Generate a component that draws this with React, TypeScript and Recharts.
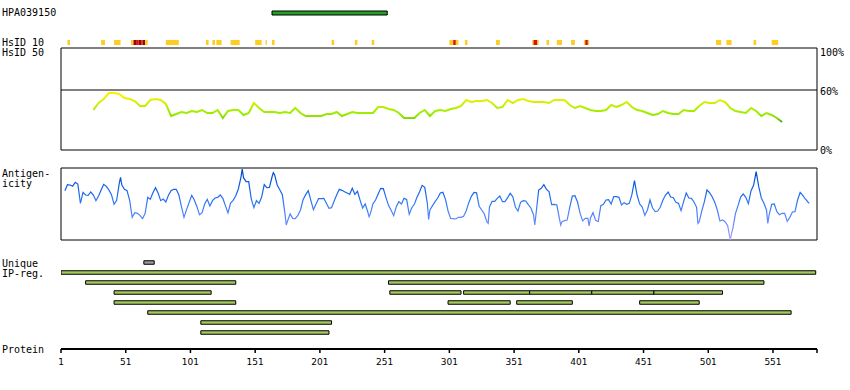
import React from "react";
import {
  BarChart,
  Bar,
  LineChart,
  Line,
  XAxis,
  YAxis,
  ReferenceArea,
  ReferenceLine,
  Cell,
} from "recharts";

const PROTEIN_END = 585;
const residueTicks = [1, 51, 101, 151, 201, 251, 301, 351, 401, 451, 501, 551, 585];
const percentTicks = [0, 60, 100];

// antigen (PrEST) region of HPA039150
const antigenRegion: [number, number] = [164, 253];

// HsID 10 hits: [from, to, level] — 1 yellow, 2 red, 3 dark red
const hsid10: [number, number, number][] = [
  [6, 8, 1], [32, 35, 1], [42, 47, 1], [55, 57, 1], [57, 59, 3], [59, 61, 2],
  [61, 63, 3], [63, 64, 2], [64, 66, 3], [66, 68, 1], [82, 92, 1], [113, 115, 1],
  [118, 120, 1], [121, 125, 1], [132, 139, 1], [151, 156, 1], [159, 160, 1],
  [164, 166, 1], [210, 212, 1], [228, 230, 1], [241, 243, 1], [301, 304, 1],
  [304, 306, 2], [306, 308, 1], [313, 315, 1], [337, 340, 1], [365, 366, 1],
  [366, 369, 2], [369, 370, 1], [376, 378, 1], [384, 388, 1], [395, 398, 1],
  [405, 406, 1], [406, 408, 2], [408, 409, 1], [507, 511, 1], [515, 519, 1],
  [536, 538, 1], [550, 555, 1],
];

// HsID 50 similarity, % (residue, value)
const similarity: [number, number][] = [
  [26, 40], [30, 47], [34, 51], [38, 57], [42, 57], [46, 56], [50, 52], [54, 51],
  [58, 49], [62, 44], [66, 44], [70, 50], [74, 51], [78, 50], [82, 46], [86, 34],
  [90, 36], [94, 38], [98, 37], [102, 39], [106, 38], [110, 40], [114, 37], [118, 37],
  [122, 40], [126, 32], [130, 39], [134, 40], [138, 40], [142, 35], [146, 37], [150, 47],
  [154, 42], [158, 38], [162, 38], [166, 38], [170, 37], [174, 38], [178, 37], [182, 42],
  [186, 37], [190, 34], [194, 34], [198, 34], [202, 34], [206, 36], [210, 36], [214, 38],
  [218, 34], [222, 36], [226, 38], [230, 37], [234, 37], [238, 37], [242, 37], [246, 43],
  [250, 43], [254, 41], [258, 40], [262, 37], [266, 32], [270, 32], [274, 32], [278, 37],
  [282, 40], [286, 34], [290, 39], [294, 40], [298, 39], [302, 41], [306, 42], [310, 44],
  [314, 50], [318, 48], [322, 49], [326, 49], [330, 50], [334, 47], [338, 42], [342, 43],
  [346, 50], [350, 47], [354, 50], [358, 51], [362, 49], [366, 48], [370, 48], [374, 48],
  [378, 47], [382, 50], [386, 50], [390, 50], [394, 45], [398, 42], [402, 44], [406, 42],
  [410, 40], [414, 39], [418, 39], [422, 40], [426, 45], [430, 43], [434, 45], [438, 48],
  [442, 43], [446, 40], [450, 39], [454, 37], [458, 35], [462, 36], [466, 39], [470, 37],
  [474, 36], [478, 36], [482, 40], [486, 39], [490, 39], [494, 44], [498, 48], [502, 47],
  [506, 47], [510, 50], [514, 48], [518, 42], [522, 39], [526, 38], [530, 37], [534, 42],
  [538, 39], [542, 34], [546, 37], [550, 35], [554, 32], [558, 28],
];

// antigenicity score, arbitrary units (residue, value)
const antigenicity: [number, number][] = [
  [4, 148], [6, 166], [8, 165], [10, 161], [12, 173], [14, 168], [16, 110], [18, 143],
  [20, 135], [22, 134], [24, 144], [26, 135], [28, 118], [30, 132], [32, 150], [34, 167],
  [36, 161], [38, 150], [40, 136], [42, 107], [44, 119], [46, 170], [47, 188], [48, 165],
  [50, 152], [52, 148], [54, 120], [56, 68], [58, 82], [60, 80], [62, 74], [64, 64],
  [66, 80], [68, 128], [70, 122], [72, 142], [74, 157], [76, 141], [78, 118], [80, 123],
  [82, 114], [84, 134], [86, 148], [88, 152], [90, 152], [92, 136], [94, 101], [96, 68],
  [98, 91], [100, 113], [102, 134], [104, 120], [106, 100], [108, 76], [110, 82], [112, 108],
  [114, 122], [116, 102], [118, 118], [120, 126], [122, 128], [124, 135], [126, 125], [128, 103],
  [130, 81], [132, 111], [134, 119], [136, 133], [138, 153], [140, 188], [141, 213], [142, 187],
  [144, 175], [146, 175], [148, 123], [150, 97], [152, 118], [154, 110], [156, 129], [158, 166],
  [160, 157], [162, 158], [164, 189], [165, 202], [166, 196], [168, 165], [170, 151], [172, 136],
  [174, 80], [175, 45], [176, 57], [178, 78], [180, 65], [182, 64], [184, 74], [186, 90],
  [188, 121], [190, 136], [192, 148], [194, 119], [196, 91], [198, 108], [200, 124], [202, 124],
  [204, 125], [206, 110], [208, 95], [210, 97], [212, 117], [214, 136], [216, 152], [218, 149],
  [220, 145], [222, 141], [224, 137], [226, 155], [228, 137], [230, 146], [232, 120], [234, 96],
  [236, 108], [238, 84], [239, 70], [240, 79], [242, 109], [244, 120], [246, 138], [248, 155],
  [250, 154], [252, 128], [254, 104], [256, 89], [258, 73], [260, 100], [262, 115], [264, 108],
  [266, 125], [268, 122], [270, 77], [272, 97], [274, 108], [276, 128], [278, 145], [280, 164],
  [282, 158], [284, 110], [285, 62], [286, 90], [288, 103], [290, 115], [292, 126], [294, 141],
  [296, 143], [298, 122], [300, 87], [302, 65], [304, 64], [306, 63], [308, 68], [310, 68],
  [312, 71], [314, 87], [316, 112], [318, 131], [320, 143], [322, 142], [324, 101], [326, 90],
  [328, 78], [330, 54], [331, 50], [332, 99], [334, 116], [336, 116], [338, 125], [340, 132],
  [342, 115], [344, 115], [346, 127], [348, 140], [350, 130], [352, 99], [354, 87], [356, 113],
  [358, 118], [360, 117], [362, 106], [364, 96], [366, 76], [367, 45], [368, 80], [370, 150],
  [372, 155], [374, 166], [376, 152], [378, 145], [380, 106], [382, 107], [384, 105], [386, 65],
  [387, 45], [388, 55], [390, 58], [392, 60], [394, 98], [396, 132], [398, 133], [400, 114],
  [402, 80], [404, 57], [406, 65], [408, 65], [409, 42], [410, 66], [412, 82], [414, 59],
  [416, 55], [418, 103], [420, 107], [422, 120], [424, 121], [426, 108], [428, 130], [430, 130],
  [432, 128], [434, 105], [436, 112], [438, 107], [440, 110], [442, 136], [444, 178], [446, 135],
  [448, 108], [450, 99], [452, 74], [454, 90], [456, 120], [458, 96], [460, 85], [462, 87],
  [464, 99], [466, 120], [468, 135], [470, 144], [472, 129], [474, 127], [476, 113], [478, 110],
  [480, 88], [482, 116], [484, 141], [486, 126], [488, 125], [490, 114], [492, 98], [493, 50],
  [494, 55], [496, 87], [498, 115], [500, 150], [502, 142], [504, 130], [506, 113], [508, 90],
  [510, 57], [512, 60], [514, 55], [516, 43], [518, 0], [519, 20], [520, 35], [522, 79],
  [524, 103], [526, 129], [528, 138], [530, 128], [532, 109], [534, 147], [536, 164], [538, 205],
  [540, 160], [542, 126], [544, 110], [546, 90], [547, 50], [548, 75], [550, 107], [552, 108],
  [554, 85], [556, 76], [558, 80], [560, 80], [562, 56], [564, 68], [566, 84], [568, 85],
  [570, 120], [572, 143], [574, 134], [576, 123], [578, 114], [579, 110],
];

const uniqueRegions: [number, number][] = [[65, 73]];
const ipRegRows: [number, number][][] = [
  [[1, 584]],
  [[20, 136], [254, 544]],
  [[42, 117], [255, 310], [312, 363], [363, 411], [411, 459], [459, 512]],
  [[42, 136], [300, 348], [353, 396], [448, 494]],
  [[68, 565]],
  [[109, 210]],
  [[109, 208]],
];

const X_DOMAIN: [number, number] = [1, PROTEIN_END];
const MONO = '"DejaVu Sans Mono", monospace';
const hsidColors: Record<number, string> = { 1: "#ffcc22", 2: "#dd1100", 3: "#a30000" };

const simData = similarity.map(([res, pct]) => ({ res, pct }));
const antData = antigenicity.map(([res, score]) => ({ res, score }));

const ipSegments = [uniqueRegions, ...ipRegRows];
const ipTable = ipSegments.map((segs, i) => {
  const row: Record<string, unknown> = { row: `r${i}` };
  segs.forEach((s, j) => (row[`s${j}`] = s));
  return row;
});
const ipCols = Math.max(...ipSegments.map((s) => s.length));

const hsidRow: Record<string, unknown> = { row: "HsID 10" };
hsid10.forEach(([a, b], i) => (hsidRow[`s${i}`] = [a, b]));

function PercentTick(props: any) {
  const { x, y, payload } = props;
  const shift = payload.value === 100 ? 2 : payload.value === 60 ? 1 : 0;
  return (
    <text x={x} y={y + shift} dy="0.36em" textAnchor="start" fontFamily={MONO} fontSize={10} fill="#000">
      {payload.value}%
    </text>
  );
}

const wrap = (top: number): React.CSSProperties => ({ position: "absolute", left: 0, top });

export default function App() {
  const side = { right: 33, left: 61 };
  return (
    <div style={{ position: "absolute", left: 0, top: 0, width: 850, height: 390, background: "#fff" }}>
      <div style={wrap(0)}>
        <BarChart layout="vertical" width={850} height={25} data={[{ row: "HPA039150", range: antigenRegion }]}
          margin={{ top: 0, bottom: 0, ...side }}>
          <XAxis type="number" domain={X_DOMAIN} allowDataOverflow hide />
          <YAxis type="category" dataKey="row" hide />
          <Bar dataKey="range" barSize={4} fill="#22a022" stroke="#000" strokeWidth={1} isAnimationActive={false} />
        </BarChart>
      </div>

      <div style={wrap(35)}>
        <BarChart layout="vertical" width={850} height={15} data={[hsidRow]} barGap={-5}
          margin={{ top: 0, bottom: 0, ...side }}>
          <XAxis type="number" domain={X_DOMAIN} allowDataOverflow hide />
          <YAxis type="category" dataKey="row" hide />
          {hsid10.map(([, , lvl], i) => (
            <Bar key={i} dataKey={`s${i}`} barSize={5} fill={hsidColors[lvl]} isAnimationActive={false} />
          ))}
        </BarChart>
      </div>

      <div style={wrap(40)}>
        <LineChart width={850} height={120} data={simData} margin={{ top: 8, right: 0, bottom: 10, left: 61 }}>
          <defs>
            <linearGradient id="simGrad" x1="0" y1="0" x2="0" y2="1">
              <stop offset="0" stopColor="#ffee00" />
              <stop offset="0.17" stopColor="#eef000" />
              <stop offset="0.34" stopColor="#d2f000" />
              <stop offset="0.52" stopColor="#b4ee00" />
              <stop offset="0.69" stopColor="#9cee00" />
              <stop offset="0.86" stopColor="#88dd00" />
              <stop offset="1" stopColor="#44aa22" />
            </linearGradient>
          </defs>
          <XAxis type="number" dataKey="res" domain={X_DOMAIN} allowDataOverflow hide />
          <YAxis orientation="right" domain={[0, 102]} ticks={percentTicks} interval={0} width={33}
            axisLine={false} tickLine={false} tickSize={0} tickMargin={3} tick={<PercentTick />} />
          <ReferenceArea x1={1} x2={PROTEIN_END} y1={0} y2={102} fill="none" stroke="#000" strokeWidth={1} />
          <ReferenceLine y={60} stroke="#000" strokeWidth={1} />
          <Line dataKey="pct" stroke="url(#simGrad)" strokeWidth={2} dot={false} isAnimationActive={false} />
        </LineChart>
      </div>

      <div style={wrap(160)}>
        <LineChart width={850} height={90} data={antData} margin={{ top: 8, bottom: 10, ...side }}>
          <defs>
            <linearGradient id="antGrad" x1="0" y1="0" x2="0" y2="1">
              <stop offset="0" stopColor="#0044bb" />
              <stop offset="0.3" stopColor="#1464ec" />
              <stop offset="0.55" stopColor="#3d7ef6" />
              <stop offset="0.75" stopColor="#6688ff" />
              <stop offset="0.9" stopColor="#8e92ff" />
              <stop offset="1" stopColor="#b4a6ff" />
            </linearGradient>
          </defs>
          <XAxis type="number" dataKey="res" domain={X_DOMAIN} allowDataOverflow hide />
          <YAxis domain={[0, 216]} hide />
          <ReferenceArea x1={1} x2={PROTEIN_END} y1={0} y2={216} fill="none" stroke="#000" strokeWidth={1} />
          <Line dataKey="score" stroke="url(#antGrad)" strokeWidth={1.2} dot={false} isAnimationActive={false} />
        </LineChart>
      </div>

      <div style={wrap(250)}>
        <BarChart layout="vertical" width={850} height={90} data={ipTable} barGap={-3.5}
          margin={{ top: 7.75, bottom: 2.25, ...side }}>
          <XAxis type="number" domain={X_DOMAIN} allowDataOverflow hide />
          <YAxis type="category" dataKey="row" hide />
          {Array.from({ length: ipCols }, (_, j) => (
            <Bar key={j} dataKey={`s${j}`} barSize={3.5} stroke="#000" strokeWidth={1} isAnimationActive={false}>
              {ipTable.map((_, i) => (
                <Cell key={i} fill={i === 0 ? "#999999" : "#a3c95c"} />
              ))}
            </Bar>
          ))}
        </BarChart>
      </div>

      <div style={wrap(330)}>
        <LineChart width={850} height={50} data={residueTicks.map((res) => ({ res }))}
          margin={{ top: 0, bottom: 0, ...side }}>
          <XAxis type="number" dataKey="res" domain={X_DOMAIN} allowDataOverflow ticks={residueTicks} interval={0}
            height={31} axisLine={{ stroke: "#000", strokeWidth: 2 }} tickLine={{ stroke: "#000", strokeWidth: 1.5 }}
            tickSize={4} tickMargin={5.5} tick={{ fill: "#000", fontSize: 9, fontFamily: "DejaVu Sans" }}
            tickFormatter={(v: number) => (v === PROTEIN_END ? "" : String(v))} />
          <YAxis domain={[0, 1]} hide />
        </LineChart>
      </div>

      <svg width={850} height={390} style={{ position: "absolute", left: 0, top: 0, pointerEvents: "none" }}
        fontFamily={MONO} fontSize={10} fill="#000">
        <text x={2} y={16}>HPA039150</text>
        <text x={2} y={46}>HsID 10</text>
        <text x={2} y={56}>HsID 50</text>
        <text x={2} y={176.5}>Antigen-</text>
        <text x={2} y={186.5}>icity</text>
        <text x={2} y={266.5}>Unique</text>
        <text x={2} y={276.5}>IP-reg.</text>
        <text x={2} y={353}>Protein</text>
      </svg>
    </div>
  );
}
